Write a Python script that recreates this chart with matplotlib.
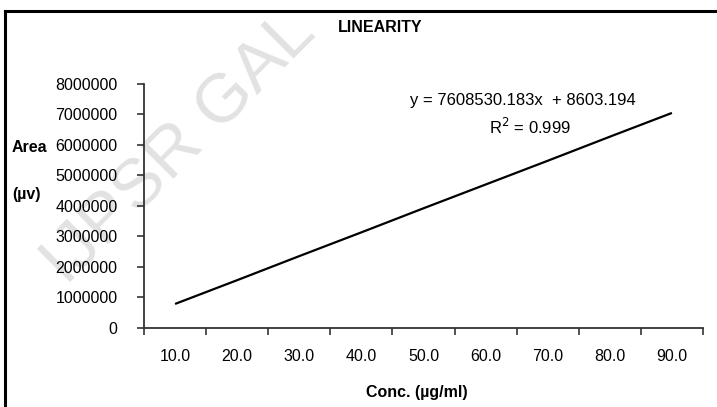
import matplotlib
matplotlib.use("Agg")
import matplotlib.pyplot as plt
from matplotlib.lines import Line2D
import numpy as np

conc_labels = ["10.0", "20.0", "30.0", "40.0", "50.0", "60.0", "70.0", "80.0", "90.0"]
area = [780000, 1560000, 2350000, 3130000, 3920000, 4700000, 5480000, 6270000, 7050000]
y_ticks = [0, 1000000, 2000000, 3000000, 4000000, 5000000, 6000000, 7000000, 8000000]

fam = ["Liberation Sans Narrow", "Liberation Sans", "DejaVu Sans"]
plt.rcParams["font.family"] = fam

fig = plt.figure(figsize=(7.17, 4.07), dpi=100)

# background watermark axes
bg = fig.add_axes([0, 0, 1, 1], zorder=0)
bg.set_axis_off()
bg.set_xlim(0, 717)
bg.set_ylim(407, 0)
bg.text(180, 148, "IJPSR GAL", fontsize=50, color="#e2e2e2", rotation=45,
        ha="center", va="center", rotation_mode="anchor")

ax = fig.add_axes([144/717, 1-327.7/407, (703-144)/717, (327.7-84)/407], zorder=1)

x = np.arange(len(conc_labels))
ax.plot(x, area, color="black", lw=1.6, solid_capstyle="butt", zorder=3)

ax.set_xlim(-0.5, len(conc_labels) - 0.5)
ax.set_ylim(0, 8000000)
ax.set_yticks(y_ticks)
ax.set_yticklabels([str(v) for v in y_ticks])
ax.set_xticks(x)
ax.set_xticklabels(conc_labels)
ax.set_xticks(np.arange(-0.5, len(conc_labels)), minor=True)
ax.tick_params(axis="x", which="major", length=0, pad=15, labelsize=11.5)
ax.tick_params(axis="x", which="minor", length=5, width=1.2, color="#333333", direction="out")
ax.tick_params(axis="y", which="major", length=5, width=1.2, color="#333333", pad=14, labelsize=11.5)
ax.patch.set_alpha(0)
for s in ["top", "right"]:
    ax.spines[s].set_visible(False)
for s in ["left", "bottom"]:
    ax.spines[s].set_color("#333333")
    ax.spines[s].set_linewidth(1.3)

fig.text(380/717, 1-27/407, "LINEARITY", fontsize=11.5, fontweight="bold", ha="center", va="center", zorder=2)
fig.text(12/717, 1-147/407, "Area", fontsize=11.5, fontweight="bold", ha="left", va="center", zorder=2)
fig.text(12/717, 1-195/407, "(µv)", fontsize=11.5, fontweight="bold", ha="left", va="center", zorder=2)
fig.text(417/717, 1-393/407, "Conc. (µg/ml)", fontsize=11.5, fontweight="bold", ha="center", va="center", zorder=2)
fig.text(523/717, 1-100/407, "y = 7608530.183x  + 8603.194", fontsize=12, ha="center", va="center", zorder=2)
fig.text(530/717, 1-127/407, "R$^2$ = 0.999", fontsize=12, ha="center", va="center", zorder=2)

# chart border (left and top visible)
fig.add_artist(Line2D([5/717, 5/717], [0, 1-11/407], transform=fig.transFigure, color="black", lw=2.2, zorder=3))
fig.add_artist(Line2D([5/717, 1], [1-11/407, 1-11/407], transform=fig.transFigure, color="black", lw=2.2, zorder=3))

fig.savefig("out.png", dpi=100)
